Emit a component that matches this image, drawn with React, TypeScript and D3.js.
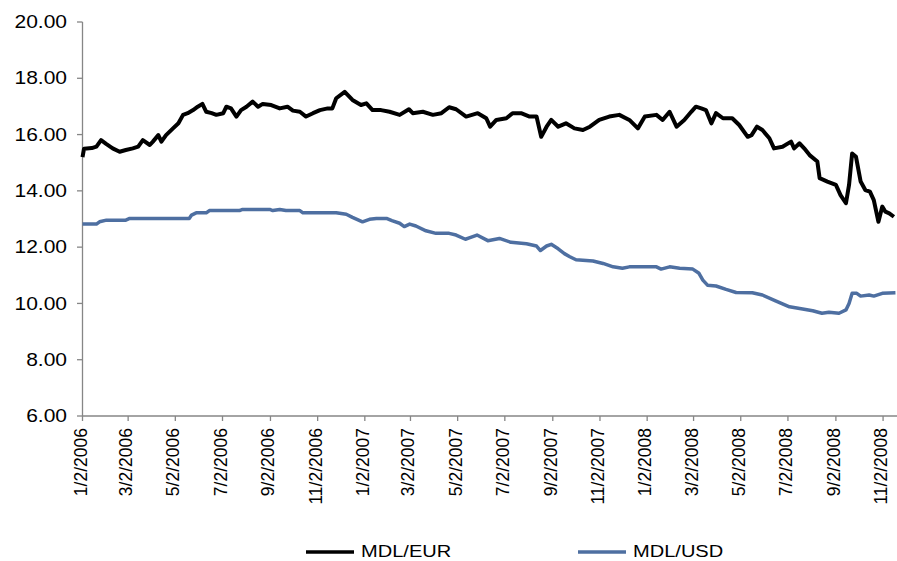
import React from 'react'
import * as d3 from 'd3'

// MDL/EUR
const eurDates = [
  '2006-01-02', '2006-01-04', '2006-01-14', '2006-01-20', '2006-01-26', '2006-02-02', '2006-02-10', '2006-02-19',
  '2006-02-27', '2006-03-08', '2006-03-15', '2006-03-21', '2006-03-30', '2006-04-03', '2006-04-10', '2006-04-14',
  '2006-04-20', '2006-04-29', '2006-05-06', '2006-05-12', '2006-05-18', '2006-05-25', '2006-05-31', '2006-06-06',
  '2006-06-11', '2006-06-18', '2006-06-24', '2006-07-03', '2006-07-07', '2006-07-13', '2006-07-20', '2006-07-26',
  '2006-08-02', '2006-08-10', '2006-08-17', '2006-08-23', '2006-09-03', '2006-09-14', '2006-09-24', '2006-10-01',
  '2006-10-10', '2006-10-18', '2006-10-27', '2006-11-05', '2006-11-15', '2006-11-21', '2006-11-26', '2006-12-07',
  '2006-12-17', '2006-12-28', '2007-01-04', '2007-01-12', '2007-01-23', '2007-02-03', '2007-02-16', '2007-02-28',
  '2007-03-05', '2007-03-18', '2007-03-31', '2007-04-11', '2007-04-21', '2007-04-30', '2007-05-13', '2007-05-28',
  '2007-06-08', '2007-06-13', '2007-06-21', '2007-07-04', '2007-07-12', '2007-07-23', '2007-08-03', '2007-08-12',
  '2007-08-18', '2007-08-25', '2007-08-31', '2007-09-09', '2007-09-19', '2007-09-30', '2007-10-11', '2007-10-20',
  '2007-11-01', '2007-11-14', '2007-11-27', '2007-12-10', '2007-12-21', '2007-12-30', '2008-01-14', '2008-01-22',
  '2008-01-31', '2008-02-09', '2008-02-19', '2008-02-28', '2008-03-05', '2008-03-12', '2008-03-18', '2008-03-25',
  '2008-03-31', '2008-04-09', '2008-04-21', '2008-04-30', '2008-05-11', '2008-05-16', '2008-05-23', '2008-05-30',
  '2008-06-08', '2008-06-14', '2008-06-25', '2008-07-06', '2008-07-10', '2008-07-17', '2008-07-23', '2008-07-30',
  '2008-08-09', '2008-08-12', '2008-08-22', '2008-09-02', '2008-09-08', '2008-09-15', '2008-09-19', '2008-09-23',
  '2008-09-28', '2008-10-04', '2008-10-10', '2008-10-16', '2008-10-21', '2008-10-27', '2008-11-01', '2008-11-05',
  '2008-11-10', '2008-11-16',
]
const eurValues = [
  15.2, 15.5, 15.52, 15.57, 15.8, 15.66, 15.51, 15.39,
  15.45, 15.51, 15.57, 15.8, 15.63, 15.75, 15.98, 15.75,
  15.98, 16.22, 16.4, 16.7, 16.76, 16.87, 16.99, 17.09,
  16.81, 16.76, 16.7, 16.76, 16.99, 16.93, 16.64, 16.87,
  16.99, 17.17, 16.99, 17.09, 17.05, 16.93, 16.99, 16.85,
  16.81, 16.64, 16.76, 16.87, 16.93, 16.93, 17.29, 17.52,
  17.23, 17.05, 17.11, 16.87, 16.87, 16.81, 16.7, 16.9,
  16.76, 16.81, 16.7, 16.76, 16.97, 16.9, 16.64, 16.76,
  16.58, 16.28, 16.52, 16.58, 16.76, 16.76, 16.64, 16.64,
  15.92, 16.28, 16.52, 16.28, 16.4, 16.22, 16.16, 16.28,
  16.52, 16.64, 16.7, 16.52, 16.22, 16.64, 16.7, 16.52,
  16.81, 16.28, 16.52, 16.81, 16.99, 16.93, 16.87, 16.4,
  16.76, 16.58, 16.58, 16.34, 15.92, 15.98, 16.28, 16.16,
  15.87, 15.51, 15.57, 15.75, 15.51, 15.69, 15.51, 15.27,
  15.04, 14.45, 14.33, 14.21, 13.85, 13.56, 14.21, 15.33,
  15.21, 14.33, 14.03, 13.97, 13.67, 12.9, 13.44, 13.26,
  13.2, 13.08,
]

// MDL/USD
const usdDates = [
  '2006-01-02', '2006-01-20', '2006-01-24', '2006-02-02', '2006-02-27', '2006-03-04', '2006-05-20', '2006-05-23',
  '2006-05-29', '2006-06-11', '2006-06-15', '2006-07-24', '2006-07-28', '2006-09-01', '2006-09-05', '2006-09-14',
  '2006-09-22', '2006-10-10', '2006-10-14', '2006-11-26', '2006-12-09', '2006-12-17', '2006-12-30', '2007-01-08',
  '2007-01-17', '2007-01-30', '2007-02-06', '2007-02-16', '2007-02-22', '2007-03-01', '2007-03-09', '2007-03-22',
  '2007-04-04', '2007-04-21', '2007-04-30', '2007-05-12', '2007-05-17', '2007-05-27', '2007-06-10', '2007-06-25',
  '2007-07-10', '2007-07-30', '2007-08-12', '2007-08-17', '2007-08-25', '2007-08-31', '2007-09-09', '2007-09-17',
  '2007-09-24', '2007-10-02', '2007-10-24', '2007-11-06', '2007-11-19', '2007-12-01', '2007-12-10', '2008-01-14',
  '2008-01-20', '2008-01-31', '2008-02-13', '2008-03-01', '2008-03-09', '2008-03-14', '2008-03-20', '2008-03-31',
  '2008-04-13', '2008-04-26', '2008-05-17', '2008-05-30', '2008-06-16', '2008-07-04', '2008-07-21', '2008-08-03',
  '2008-08-15', '2008-08-24', '2008-09-06', '2008-09-15', '2008-09-19', '2008-09-23', '2008-09-29', '2008-10-04',
  '2008-10-15', '2008-10-21', '2008-11-01', '2008-11-18',
]
const usdValues = [
  12.82, 12.82, 12.9, 12.96, 12.96, 13.02, 13.02, 13.14,
  13.22, 13.22, 13.3, 13.3, 13.34, 13.34, 13.3, 13.34,
  13.3, 13.3, 13.22, 13.22, 13.17, 13.06, 12.9, 12.99,
  13.02, 13.02, 12.94, 12.85, 12.73, 12.82, 12.75, 12.58,
  12.49, 12.49, 12.43, 12.28, 12.33, 12.43, 12.23, 12.31,
  12.17, 12.12, 12.04, 11.88, 12.04, 12.1, 11.94, 11.77,
  11.66, 11.55, 11.51, 11.42, 11.3, 11.25, 11.3, 11.3,
  11.22, 11.3, 11.25, 11.22, 11.07, 10.83, 10.65, 10.62,
  10.5, 10.39, 10.38, 10.3, 10.09, 9.88, 9.8, 9.74,
  9.65, 9.69, 9.65, 9.77, 10.0, 10.36, 10.36, 10.26,
  10.3, 10.26, 10.36, 10.38,
]

const yTicks = [6, 8, 10, 12, 14, 16, 18, 20]
const xTickLabels = [
  '1/2/2006', '3/2/2006', '5/2/2006', '7/2/2006', '9/2/2006', '11/2/2006',
  '1/2/2007', '3/2/2007', '5/2/2007', '7/2/2007', '9/2/2007', '11/2/2007',
  '1/2/2008', '3/2/2008', '5/2/2008', '7/2/2008', '9/2/2008', '11/2/2008',
]
const seriesNames = ['MDL/EUR', 'MDL/USD']

const W = 897
const H = 561
const AXIS = '#868686'
const FONT = 'Arial, "Liberation Sans", sans-serif'

export default function App() {
  const parse = d3.timeParse('%Y-%m-%d')
  const parseTick = d3.timeParse('%m/%d/%Y')

  const x = d3.scaleTime()
    .domain([parse('2006-01-02'), parse('2008-11-20')])
    .range([82.5, 897])
  const y = d3.scaleLinear().domain([6, 20]).range([416, 22])

  const eur = eurDates.map((d, i) => ({date: parse(d), v: eurValues[i]}))
  const usd = usdDates.map((d, i) => ({date: parse(d), v: usdValues[i]}))

  const line = d3.line<any>()
    .x(d => x(d.date))
    .y(d => y(d.v))

  const fmt = d3.format('.2f')
  const colors = ['#000000', '#4e6fa1']
  const legendX = [306, 578]

  return (
    <svg width={W} height={H} style={{position: 'absolute', left: 0, top: 0, background: '#fff'}}>
      {/* y axis */}
      <line x1={82.5} x2={82.5} y1={22} y2={416} stroke={AXIS} strokeWidth={1.3} />
      {yTicks.map(t => (
        <g key={t}>
          <line x1={77} x2={82.5} y1={y(t)} y2={y(t)} stroke={AXIS} strokeWidth={1.3} />
          <text
            transform={`translate(67,${y(t)}) scale(1.2,1)`}
            textAnchor="end"
            dy="0.35em"
            fontFamily={FONT}
            fontSize={17.5}
            fill="#000"
          >
            {fmt(t)}
          </text>
        </g>
      ))}

      {/* x axis */}
      <line x1={82} x2={897} y1={416} y2={416} stroke={AXIS} strokeWidth={1.3} />
      {xTickLabels.map(l => {
        const tx = x(parseTick(l))
        return (
          <g key={l}>
            <line x1={tx} x2={tx} y1={416} y2={421} stroke={AXIS} strokeWidth={1.3} />
            <text
              transform={`translate(${tx},428) rotate(-90)`}
              textAnchor="end"
              dy={4}
              fontFamily={FONT}
              fontSize={17.5}
              fill="#000"
            >
              {l}
            </text>
          </g>
        )
      })}

      {/* series */}
      <path d={line(usd)} fill="none" stroke={colors[1]} strokeWidth={3.5} strokeLinejoin="round" />
      <path d={line(eur)} fill="none" stroke={colors[0]} strokeWidth={4} strokeLinejoin="round" />

      {/* legend */}
      {seriesNames.map((n, i) => (
        <g key={n}>
          <line x1={legendX[i]} x2={legendX[i] + 48} y1={552} y2={552} stroke={colors[i]} strokeWidth={3.5} />
          <text
            transform={`translate(${legendX[i] + 55},557) scale(1.18,1)`}
            fontFamily={FONT}
            fontSize={17}
            fill="#000"
          >
            {n}
          </text>
        </g>
      ))}
    </svg>
  )
}
